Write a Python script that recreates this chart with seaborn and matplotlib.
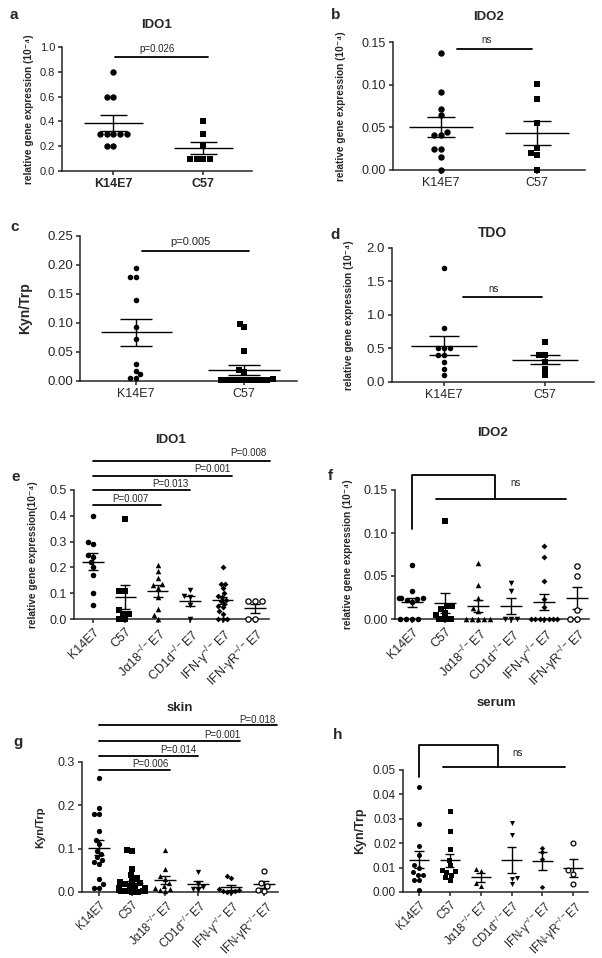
import numpy as np
import pandas as pd
import matplotlib
matplotlib.use('Agg')
import matplotlib.pyplot as plt
import seaborn as sns

sns.set_style('ticks')
plt.rcParams['font.family'] = ['Liberation Sans', 'DejaVu Sans']
plt.rcParams['mathtext.fontset'] = 'custom'
plt.rcParams['mathtext.rm'] = 'Liberation Sans'
plt.rcParams['mathtext.default'] = 'regular'
plt.rcParams['axes.linewidth'] = 1.1

# ---- data ----
pair_groups = ['K14E7', 'C57']
ko_groups = ['K14E7', 'C57', 'Jα18$^{-/-}$E7', 'CD1d$^{-/-}$E7',
             'IFN-γ$^{-/-}$E7', 'IFN-γR$^{-/-}$E7']
ko_markers = ['o', 's', '^', 'v', 'D', 'open']

# a: IDO1 (10^-4)
a_k14 = [0.8, 0.6, 0.6, 0.3, 0.3, 0.3, 0.3, 0.3, 0.2, 0.2]
a_c57 = [0.4, 0.3, 0.2, 0.1, 0.1, 0.1, 0.1]
# b: IDO2
b_k14 = [0.137, 0.091, 0.072, 0.064, 0.045, 0.041, 0.041, 0.025, 0.025, 0.015, 0.0]
b_c57 = [0.101, 0.083, 0.055, 0.026, 0.020, 0.018, 0.0]
# c: Kyn/Trp
c_k14 = [0.194, 0.179, 0.179, 0.140, 0.093, 0.072, 0.029, 0.018, 0.012, 0.005, 0.005]
c_c57 = [0.099, 0.093, 0.051, 0.019, 0.016, 0.003, 0.002, 0.002, 0.001, 0.001,
         0.001, 0.001, 0.002, 0.001, 0.002]
# d: TDO
d_k14 = [1.7, 0.8, 0.5, 0.5, 0.5, 0.4, 0.4, 0.3, 0.2, 0.1]
d_c57 = [0.6, 0.4, 0.4, 0.3, 0.2, 0.1]

# e: IDO1 in knockouts
e_vals = [
    [0.40, 0.30, 0.29, 0.25, 0.24, 0.22, 0.20, 0.17, 0.10, 0.055],
    [0.386, 0.11, 0.11, 0.035, 0.02, 0.02, 0.0, 0.0],
    [0.21, 0.185, 0.16, 0.135, 0.13, 0.12, 0.085, 0.04, 0.015, 0.0],
    [0.113, 0.09, 0.085, 0.055, 0.0],
    [0.203, 0.137, 0.135, 0.12, 0.10, 0.09, 0.085, 0.075, 0.07, 0.06, 0.05,
     0.045, 0.03, 0.02, 0.0, 0.0, 0.0],
    [0.07, 0.07, 0.07, 0.0, 0.0],
]
# f: IDO2 in knockouts
f_vals = [
    [0.063, 0.033, 0.025, 0.025, 0.024, 0.023, 0.022, 0.02, 0.0, 0.0, 0.0, 0.0],
    [0.114, 0.015, 0.015, 0.012, 0.007, 0.005, 0.0, 0.0, 0.0],
    [0.0655, 0.039, 0.024, 0.013, 0.0096, 0.0, 0.0, 0.0, 0.0, 0.0],
    [0.0424, 0.032, 0.0, 0.0, 0.0],
    [0.085, 0.0725, 0.0444, 0.023, 0.0135, 0.0, 0.0, 0.0, 0.0, 0.0, 0.0, 0.0],
    [0.0617, 0.050, 0.0108, 0.0, 0.0],
]
# g: skin Kyn/Trp
g_vals = [
    [0.263, 0.195, 0.18, 0.18, 0.14, 0.12, 0.11, 0.095, 0.088, 0.08, 0.075,
     0.07, 0.065, 0.03, 0.018, 0.01, 0.01],
    [0.098, 0.095, 0.052, 0.04, 0.033, 0.028, 0.022, 0.02, 0.018, 0.015, 0.012,
     0.01, 0.01, 0.008, 0.006, 0.005, 0.004, 0.003, 0.002, 0.001, 0.002, 0.003,
     0.001, 0.004],
    [0.098, 0.054, 0.036, 0.03, 0.02, 0.015, 0.01, 0.008, 0.005, 0.003],
    [0.047, 0.018, 0.012, 0.008, 0.005],
    [0.037, 0.033, 0.006, 0.005, 0.003, 0.002, 0.001, 0.0],
    [0.048, 0.02, 0.015, 0.004, 0.002],
]
# h: serum Kyn/Trp
h_vals = [
    [0.043, 0.028, 0.019, 0.015, 0.011, 0.01, 0.008, 0.007, 0.007, 0.005, 0.005, 0.001],
    [0.0334, 0.0249, 0.0175, 0.013, 0.011, 0.009, 0.0085, 0.008, 0.007, 0.006, 0.005],
    [0.0096, 0.0085, 0.0035, 0.0025],
    [0.0284, 0.0233, 0.0058, 0.0055, 0.0031],
    [0.0182, 0.0165, 0.0137, 0.0021],
    [0.0199, 0.009, 0.0075, 0.0032],
]

W, H = 602, 958
fig = plt.figure(figsize=(W / 100, H / 100), dpi=100)


def make_ax(left, right, top, bottom):
    return fig.add_axes([left / W, 1 - bottom / H, (right - left) / W, (bottom - top) / H])


def draw_groups(ax, groups, values, markers, size):
    for i, (name, vals, mk) in enumerate(zip(groups, values, markers)):
        df = pd.DataFrame({'group': name, 'value': vals})
        if mk == 'open':
            sns.swarmplot(data=df, x='group', y='value', order=groups, marker='o',
                          color='white', edgecolor='black', linewidth=0.9,
                          size=size * 0.95, ax=ax)
        else:
            s = size * 0.75 if mk == 'D' else size
            sns.swarmplot(data=df, x='group', y='value', order=groups, marker=mk,
                          color='black', linewidth=0, size=s, ax=ax)
        m = np.mean(vals)
        se = np.std(vals, ddof=1) / np.sqrt(len(vals))
        ax.hlines(m, i - 0.33, i + 0.33, color='black', lw=1)
        ax.vlines(i, m - se, m + se, color='black', lw=1)
        ax.hlines([m - se, m + se], i - 0.15, i + 0.15, color='black', lw=1)
    for coll in ax.collections:
        coll.set_clip_on(False)
    sns.despine(ax=ax)
    ax.set_xlabel('')
    ax.tick_params(direction='out', length=3, width=1.1, pad=2)


def sig_bar(ax, x0, x1, y, text, tx, ty, fs):
    ax.plot([x0, x1], [y, y], color='black', lw=1.3, clip_on=False)
    ax.text(tx, ty, text, ha='center', va='center', fontsize=fs)


def style_y(ax, ticks, fmt, fs, label, lab_x, lab_fs):
    ax.set_yticks(ticks)
    ax.set_yticklabels([fmt.format(t) for t in ticks], fontsize=fs)
    ax.set_ylim(ticks[0], ticks[-1])
    ax.set_ylabel(label, fontsize=lab_fs, fontweight='bold')
    ax.yaxis.set_label_coords(lab_x, 0.5)


gene_label = 'relative gene expression (10⁻⁴)'

# ---- a ----
ax = make_ax(62, 252, 47, 171)
draw_groups(ax, pair_groups, [a_k14, a_c57], ['o', 's'], 4.6)
style_y(ax, np.arange(0, 1.01, 0.2), '{:.1f}', 8, gene_label, -0.145, 7.3)
ax.set_xlim(-0.57, 1.54)
ax.set_xticks([0, 1])
ax.set_xticklabels(pair_groups, fontsize=9, fontweight='bold')
sig_bar(ax, 0.02, 1.05, 0.92, 'p=0.026', 0.49, 0.985, 7)

# ---- b ----
ax = make_ax(393, 585, 42, 170)
draw_groups(ax, pair_groups, [b_k14, b_c57], ['o', 's'], 4.6)
style_y(ax, np.arange(0, 0.151, 0.05), '{:.2f}', 9, gene_label, -0.245, 7.3)
ax.set_xlim(-0.5, 1.5)
ax.set_xticks([0, 1])
ax.set_xticklabels(pair_groups, fontsize=9)
sig_bar(ax, 0.17, 0.95, 0.142, 'ns', 0.47, 0.152, 7)

# ---- c ----
ax = make_ax(80, 297, 236, 381)
draw_groups(ax, pair_groups, [c_k14, c_c57], ['o', 's'], 4.0)
style_y(ax, np.arange(0, 0.251, 0.05), '{:.2f}', 9.5, 'Kyn/Trp', -0.22, 10)
ax.set_xlim(-0.52, 1.49)
ax.set_xticks([0, 1])
ax.set_xticklabels(pair_groups, fontsize=9)
sig_bar(ax, 0.05, 1.05, 0.2247, 'p=0.005', 0.5, 0.240, 8)

# ---- d ----
ax = make_ax(392, 594, 248, 382)
draw_groups(ax, pair_groups, [d_k14, d_c57], ['o', 's'], 4.0)
style_y(ax, np.arange(0, 2.01, 0.5), '{:.1f}', 9.5, gene_label, -0.19, 7.3)
ax.set_xlim(-0.515, 1.485)
ax.set_xticks([0, 1])
ax.set_xticklabels(pair_groups, fontsize=9)
sig_bar(ax, 0.19, 0.97, 1.264, 'ns', 0.49, 1.39, 7)

# ---- e ----
ax = make_ax(74, 269, 490, 619)
draw_groups(ax, ko_groups, e_vals, ko_markers, 4.0)
style_y(ax, np.arange(0, 0.51, 0.1), '{:.1f}', 9, 'relative gene expression(10⁻⁴)', -0.185, 7.3)
ax.set_xlim(-0.58, 5.43)
ax.set_xticks(range(6))
ax.set_xticklabels(ko_groups, fontsize=9, rotation=45, ha='right', rotation_mode='anchor')
for x1, y, txt, tx, ty in [(2.1, 0.442, 'P=0.007', 1.16, 0.465),
                           (3.0, 0.500, 'P=0.013', 2.40, 0.523),
                           (4.3, 0.555, 'P=0.001', 3.70, 0.581),
                           (5.45, 0.613, 'P=0.008', 4.80, 0.644)]:
    sig_bar(ax, 0, x1, y, txt, tx, ty, 7)

# ---- f ----
ax = make_ax(395, 589, 490, 619)
draw_groups(ax, ko_groups, f_vals, ko_markers, 4.0)
style_y(ax, np.arange(0, 0.151, 0.05), '{:.2f}', 9, gene_label, -0.216, 7.3)
ax.set_xlim(-0.52, 5.36)
ax.set_xticks(range(6))
ax.set_xticklabels(ko_groups, fontsize=9, rotation=45, ha='right', rotation_mode='anchor')
ax.plot([0, 0, 2.5, 2.5], [0.105, 0.167, 0.167, 0.1395], color='black', lw=1.3, clip_on=False)
ax.plot([0.73, 4.67], [0.1395, 0.1395], color='black', lw=1.3, clip_on=False)
ax.text(3.15, 0.158, 'ns', ha='center', va='center', fontsize=7)

# ---- g ----
ax = make_ax(82, 278, 762, 892)
draw_groups(ax, ko_groups, g_vals, ko_markers, 3.8)
style_y(ax, np.arange(0, 0.31, 0.1), '{:.1f}', 9, 'Kyn/Trp', -0.19, 8)
ax.set_xlim(-0.52, 5.42)
ax.set_xticks(range(6))
ax.set_xticklabels(ko_groups, fontsize=8.3, rotation=45, ha='right', rotation_mode='anchor')
for x1, y, txt, tx, ty in [(2.15, 0.282, 'P=0.006', 1.55, 0.295),
                           (3.0, 0.315, 'P=0.014', 2.40, 0.327),
                           (4.27, 0.349, 'P=0.001', 3.72, 0.362),
                           (5.4, 0.385, 'P=0.018', 4.78, 0.398)]:
    sig_bar(ax, 0, x1, y, txt, tx, ty, 7)

# ---- h ----
ax = make_ax(403, 588, 770, 892)
draw_groups(ax, ko_groups, h_vals, ko_markers, 3.6)
style_y(ax, np.arange(0, 0.051, 0.01), '{:.2f}', 8.5, 'Kyn/Trp', -0.2, 9)
ax.set_xlim(-0.52, 5.48)
ax.set_xticks(range(6))
ax.set_xticklabels(ko_groups, fontsize=8.3, rotation=45, ha='right', rotation_mode='anchor')
ax.plot([0, 0, 2.55, 2.55], [0.0473, 0.0603, 0.0603, 0.0511], color='black', lw=1.3, clip_on=False)
ax.plot([0.77, 4.74], [0.0511, 0.0511], color='black', lw=1.3, clip_on=False)
ax.text(3.2, 0.057, 'ns', ha='center', va='center', fontsize=7)

# ---- titles and panel letters ----
titles = [('IDO1', 157, 25, 9.5), ('IDO2', 489, 17, 9.5), ('TDO', 493, 233, 10),
          ('IDO1', 171, 440, 9.5), ('IDO2', 492, 433, 9.5),
          ('skin', 180, 708, 9.5), ('serum', 496, 703, 9.5)]
for t, x, y, fs in titles:
    fig.text(x / W, 1 - y / H, t, ha='center', va='center', fontsize=fs, fontweight='bold')

letters = [('a', 10, 15), ('b', 331, 15), ('c', 10, 227), ('d', 330, 235),
           ('e', 11, 477), ('f', 328, 476), ('g', 13, 742), ('h', 333, 735)]
for t, x, y in letters:
    fig.text(x / W, 1 - y / H, t, ha='left', va='center', fontsize=11, fontweight='bold')

fig.savefig('out.png', dpi=100)
